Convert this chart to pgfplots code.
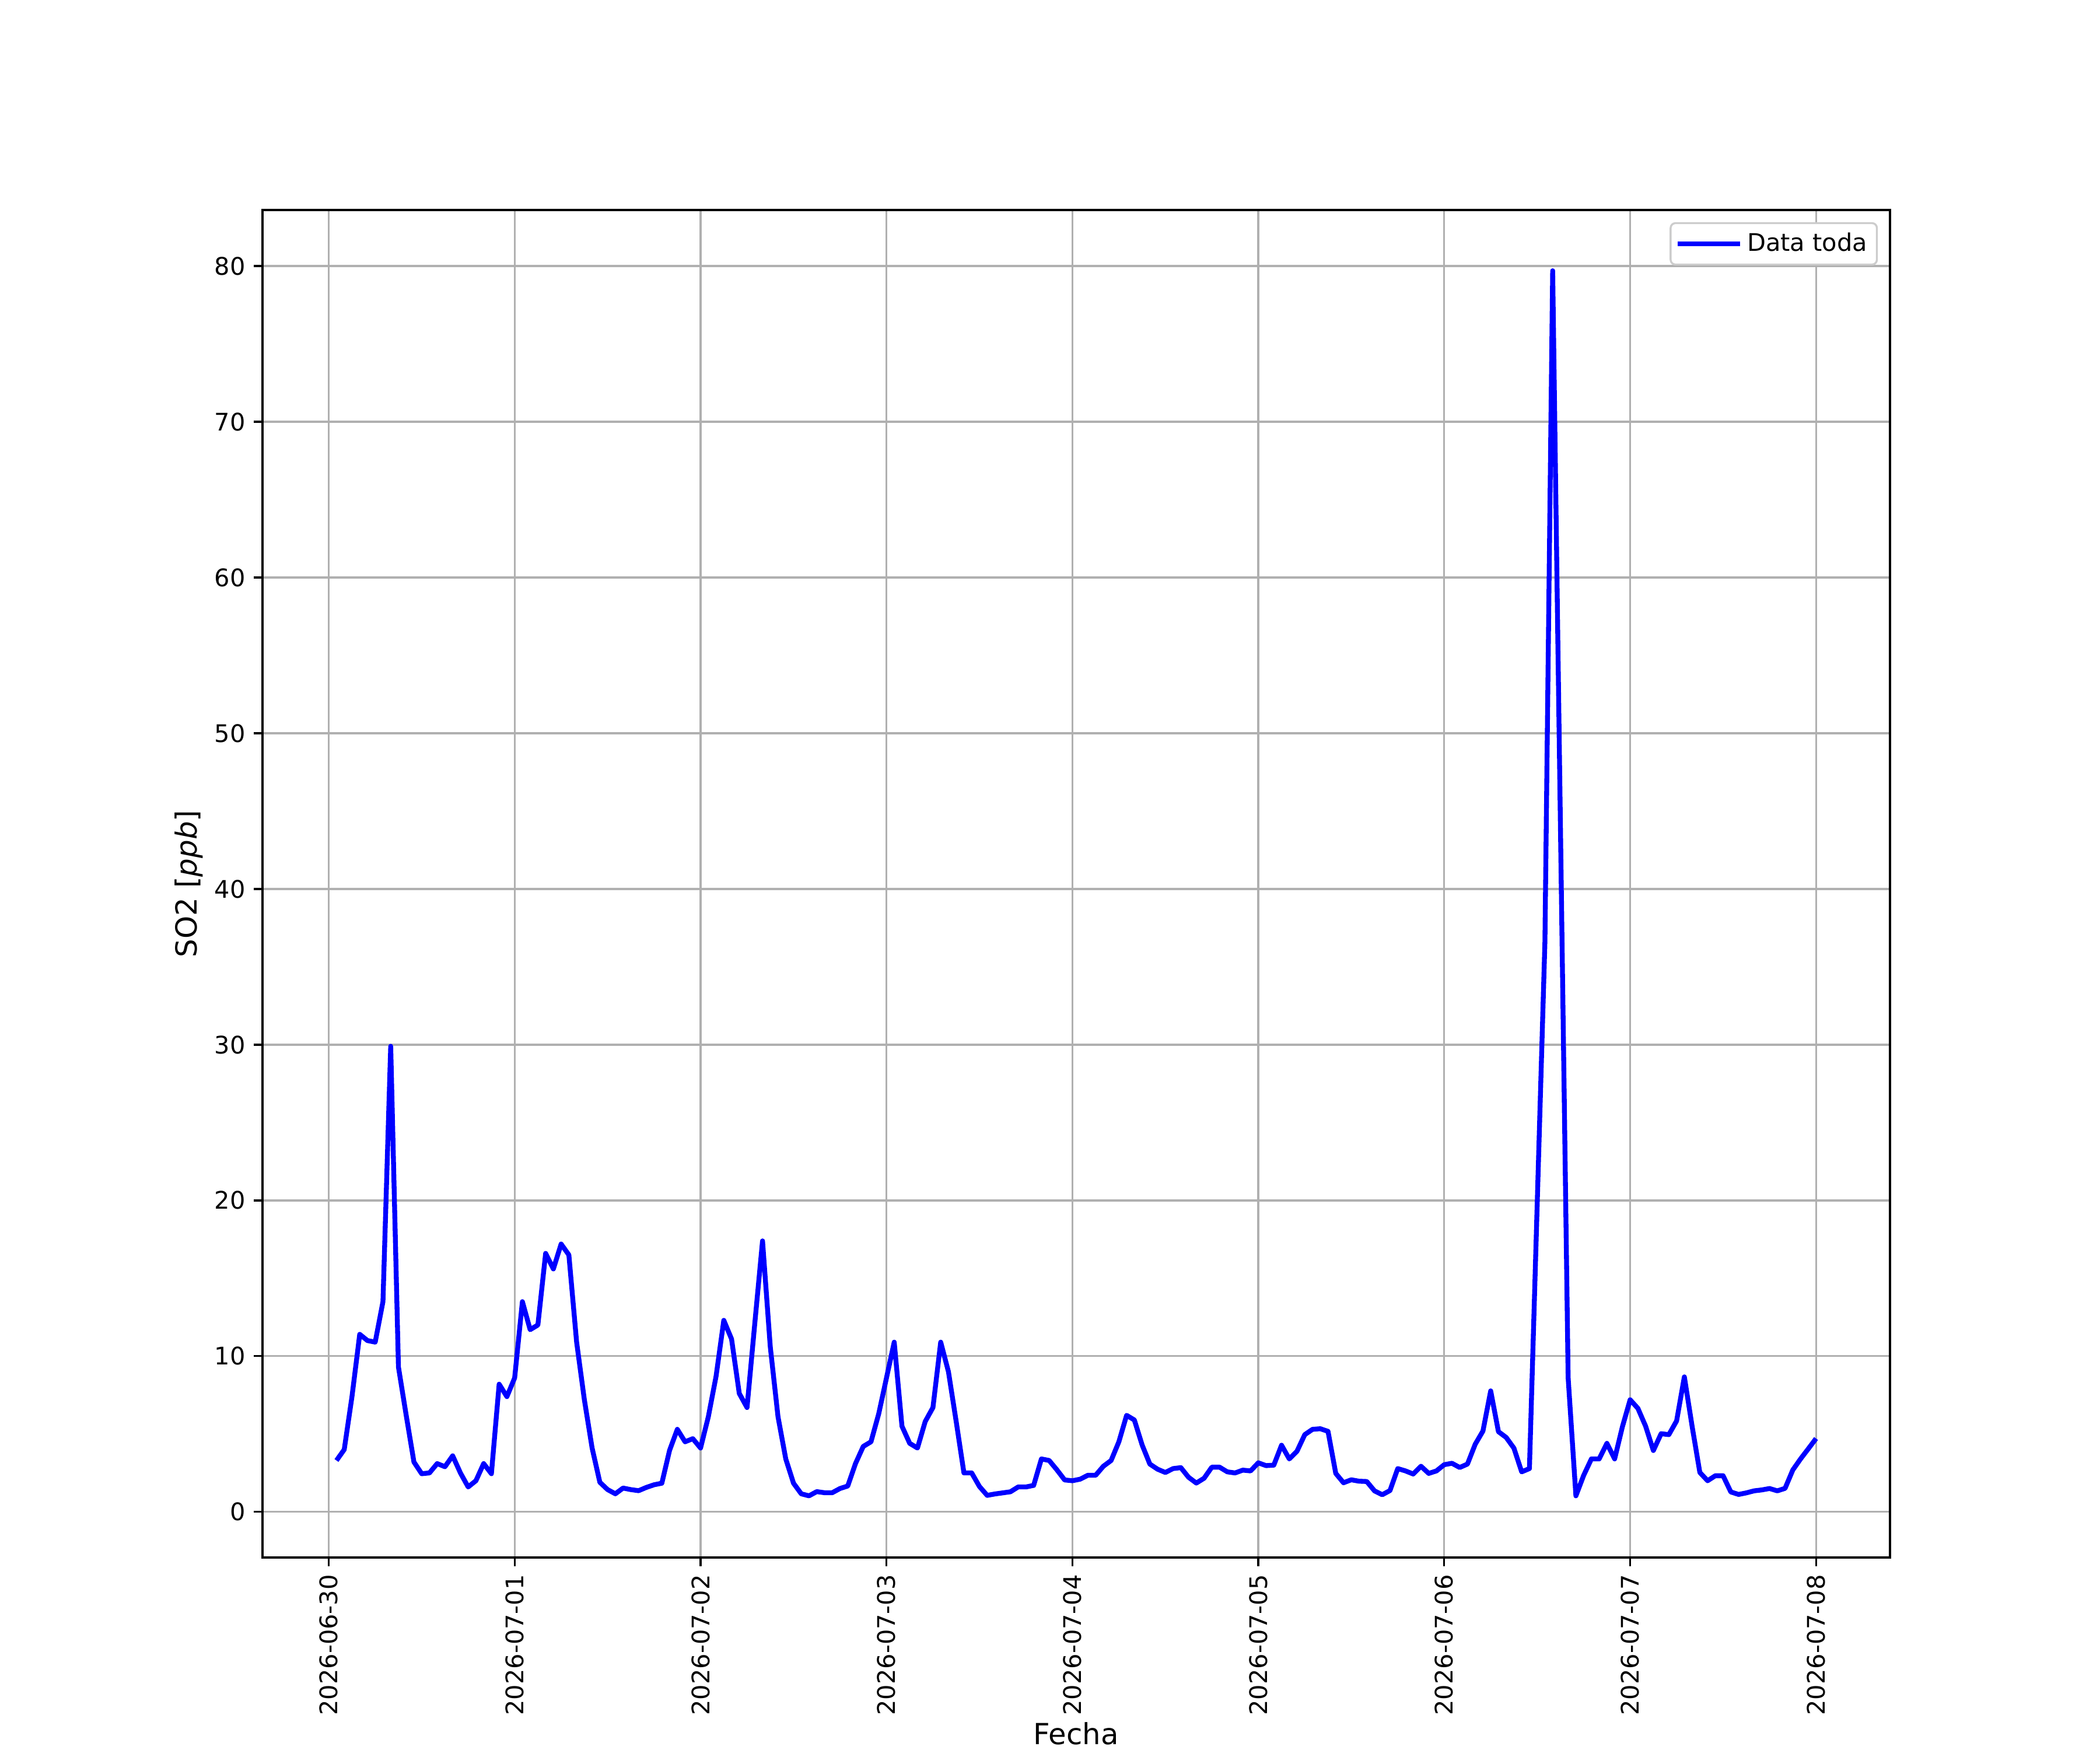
\documentclass[border=0pt]{standalone}
\usepackage{fontspec}
\setmainfont{DejaVu Sans}
\usepackage{pgfplots}
\pgfplotsset{compat=1.18}
\definecolor{gridgray}{HTML}{B0B0B0}
\definecolor{legframe}{HTML}{CCCCCC}
\begin{document}
\begin{tikzpicture}
\begin{axis}[
  at={(1.5in,1.1in)}, anchor=south west,
  scale only axis, width=9.3in, height=7.7in,
  xmin=-8.55, xmax=201.55, ymin=-2.93, ymax=83.6,
  xtick={0,24,48,72,96,120,144,168,192},
  xticklabels={2026-06-30,2026-07-01,2026-07-02,2026-07-03,2026-07-04,2026-07-05,2026-07-06,2026-07-07,2026-07-08},
  ytick={0,10,20,30,40,50,60,70,80},
  xticklabel style={rotate=90, anchor=east, font=\fontsize{10}{12}\selectfont},
  yticklabel style={font=\fontsize{10}{12}\selectfont},
  /pgf/number format/assume math mode=true,
  tick align=outside, major tick length=3.5bp,
  tick style={black, line width=0.8bp},
  xtick pos=bottom, ytick pos=left,
  axis line style={line width=0.8bp},
  grid=major, grid style={gridgray, line width=0.8bp},
  xlabel={Fecha}, ylabel={SO2 [{\itshape ppb}]},
  xlabel style={font=\fontsize{12}{14}\selectfont, yshift=4bp},
  ylabel style={font=\fontsize{12}{14}\selectfont, yshift=-2bp},
  legend style={at={(1,1)}, anchor=north east, xshift=-5bp, yshift=-5bp,
    draw=legframe, rounded corners=2bp, line width=0.8bp,
    font=\fontsize{10}{12}\selectfont, inner xsep=2bp, inner ysep=2bp},
  legend cell align=left,
  legend image code/.code={\draw[#1] (0bp,0bp) -- (19bp,0bp); \path (0bp,0bp) -- (25.5bp,0bp);},
]
\addplot[blue, line width=2bp, line join=round] table {
x y
1 3.3
2 4.0
3 7.4
4 11.4
5 11.0
6 10.9
7 13.5
8 29.9
9 9.3
10 6.2
11 3.2
12 2.45
13 2.5
14 3.1
15 2.9
16 3.6
17 2.5
18 1.6
19 2.0
20 3.1
21 2.45
22 8.2
23 7.4
24 8.6
25 13.5
26 11.7
27 12.0
28 16.6
29 15.6
30 17.2
31 16.5
32 10.9
33 7.2
34 4.1
35 1.9
36 1.43
37 1.16
38 1.53
39 1.43
40 1.36
41 1.57
42 1.74
43 1.84
44 3.95
45 5.3
46 4.5
47 4.7
48 4.1
49 6.1
50 8.7
51 12.3
52 11.1
53 7.6
54 6.7
55 12.1
56 17.4
57 10.6
58 6.1
59 3.4
60 1.84
61 1.16
62 1.03
63 1.3
64 1.23
65 1.23
66 1.5
67 1.66
68 3.1
69 4.2
70 4.5
71 6.3
72 8.6
73 10.9
74 5.5
75 4.4
76 4.1
77 5.8
78 6.7
79 10.9
80 9.0
81 5.8
82 2.5
83 2.5
84 1.63
85 1.06
86 1.15
87 1.22
88 1.29
89 1.6
90 1.6
91 1.7
92 3.4
93 3.3
94 2.7
95 2.05
96 2.0
97 2.1
98 2.35
99 2.35
100 2.93
101 3.3
102 4.5
103 6.2
104 5.9
105 4.3
106 3.07
107 2.74
108 2.53
109 2.78
110 2.84
111 2.22
112 1.85
113 2.16
114 2.87
115 2.87
116 2.57
117 2.5
118 2.68
119 2.63
120 3.15
121 2.97
122 3.0
123 4.28
124 3.4
125 3.9
126 4.96
127 5.3
128 5.34
129 5.17
130 2.47
131 1.87
132 2.06
133 1.97
134 1.95
135 1.35
136 1.1
137 1.37
138 2.78
139 2.63
140 2.43
141 2.93
142 2.47
143 2.63
144 3.03
145 3.12
146 2.85
147 3.07
148 4.34
149 5.19
150 7.77
151 5.15
152 4.78
153 4.09
154 2.57
155 2.78
157 36.6
158 79.7
160 8.6
161 1.03
162 2.34
163 3.4
164 3.4
165 4.4
166 3.4
167 5.46
168 7.2
169 6.65
170 5.5
171 3.94
172 5.02
173 4.96
174 5.84
175 8.67
176 5.5
177 2.53
178 2.0
179 2.32
180 2.32
181 1.28
182 1.12
183 1.22
184 1.35
185 1.41
186 1.5
187 1.35
188 1.51
189 2.69
190 3.4
191 4.05
192 4.71
};
\addlegendentry{Data toda}
\end{axis}
\pgfresetboundingbox
\path[use as bounding box] (0,0) rectangle (12in,10in);
\end{tikzpicture}
\end{document}
